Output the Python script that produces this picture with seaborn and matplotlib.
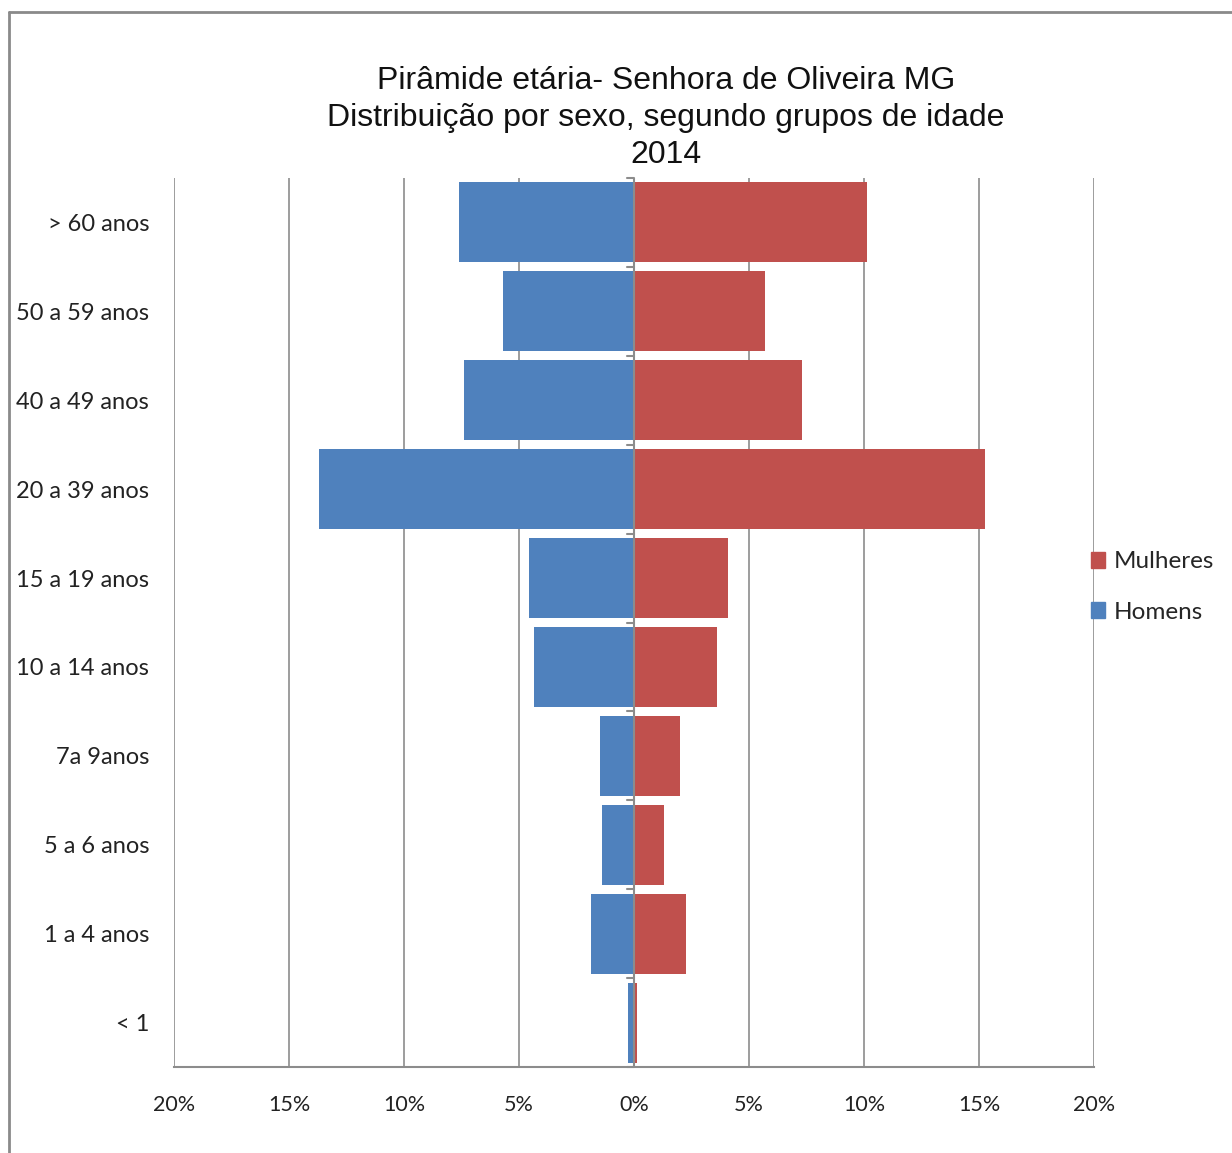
import matplotlib
matplotlib.use("Agg")
import matplotlib.pyplot as plt
import matplotlib.lines as mlines
import matplotlib.patches as mpatches
import numpy as np
import pandas as pd
import seaborn as sns

# Age groups, top to bottom
faixas = ["> 60 anos", "50 a 59 anos", "40 a 49 anos", "20 a 39 anos", "15 a 19 anos",
          "10 a 14 anos", "7a 9anos", "5 a 6 anos", "1 a 4 anos", "< 1"]
# Share of population (%)
homens = [7.6, 5.7, 7.4, 13.7, 4.55, 4.35, 1.5, 1.4, 1.85, 0.25]
mulheres = [10.15, 5.7, 7.3, 15.25, 4.1, 3.6, 2.0, 1.3, 2.25, 0.15]
ticks_x = [-20, -15, -10, -5, 0, 5, 10, 15, 20]
tick_labels_x = ["20%", "15%", "10%", "5%", "0%", "5%", "10%", "15%", "20%"]

cor_h = "#4F81BD"
cor_m = "#C0504D"
grid_c = "#8C8C8C"

df = pd.concat([
    pd.DataFrame({"faixa": faixas, "valor": [-v for v in homens], "sexo": "Homens"}),
    pd.DataFrame({"faixa": faixas, "valor": mulheres, "sexo": "Mulheres"}),
])

sns.set_style("white")
plt.rcParams["font.family"] = ["Lato", "DejaVu Sans"]

fig = plt.figure(figsize=(12.32, 11.53), dpi=100)
ax = fig.add_axes([174 / 1232, 1 - 1067 / 1153, (1094 - 174) / 1232, (1067 - 178) / 1153])

sns.barplot(data=df, y="faixa", x="valor", hue="sexo", order=faixas,
            palette={"Homens": cor_h, "Mulheres": cor_m}, dodge=False,
            orient="h", width=0.9, ax=ax, legend=False, saturation=1,
            edgecolor="none", zorder=3)

ax.set_xlim(-20, 20)
ax.set_ylim(len(faixas) - 0.5, -0.5)
ax.set_xticks(ticks_x)
ax.set_xticklabels(tick_labels_x, fontsize=15.5, color="#222222")
ax.tick_params(axis="x", length=9, width=1.2, color=grid_c, pad=11, direction="out")
ax.tick_params(axis="y", length=0, pad=18, labelsize=17, labelcolor="#222222")
ax.set_xlabel("")
ax.set_ylabel("")

for x in ticks_x:
    ax.axvline(x, color=grid_c, lw=1.2, zorder=1)
for s in ["top", "right", "left"]:
    ax.spines[s].set_visible(False)
ax.spines["bottom"].set_color(grid_c)
ax.spines["bottom"].set_linewidth(1.5)

# central axis with category separators
ax.axvline(0, color=grid_c, lw=1.5, zorder=4)
for b in np.arange(-0.5, len(faixas), 1.0):
    ax.plot([-0.3, 0], [b, b], color=grid_c, lw=1.5, zorder=4, clip_on=False)

fig.text(666 / 1232, 1 - 118 / 1153,
         "Pirâmide etária- Senhora de Oliveira MG\nDistribuição por sexo, segundo grupos de idade\n2014",
         ha="center", va="center", fontsize=23, family="Liberation Sans",
         linespacing=1.31, color="#111111")

handles = [mpatches.Patch(color=cor_m, label="Mulheres"),
           mpatches.Patch(color=cor_h, label="Homens")]
fig.legend(handles=handles, loc="center left", bbox_to_anchor=(1069 / 1232, 1 - 587 / 1153),
           frameon=False, fontsize=17.5, handlelength=0.6, handleheight=0.6,
           handletextpad=0.35, labelspacing=1.2)

# outer frame
fig.add_artist(mlines.Line2D([9 / 1232, 9 / 1232], [0, 1 - 12 / 1153],
                             transform=fig.transFigure, color="#8A8A8A", lw=2))
fig.add_artist(mlines.Line2D([9 / 1232, 1], [1 - 12 / 1153, 1 - 12 / 1153],
                             transform=fig.transFigure, color="#8A8A8A", lw=2))

fig.savefig("out.png", dpi=100, facecolor="white")
